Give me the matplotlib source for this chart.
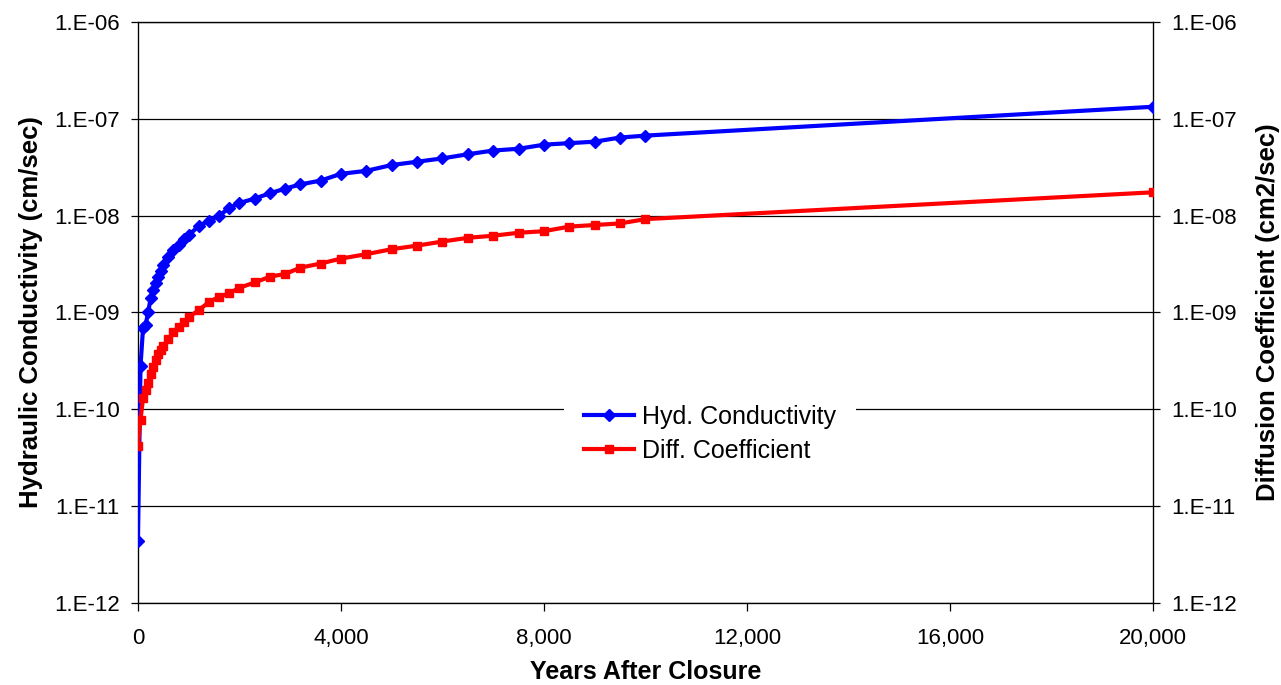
import math
import matplotlib
matplotlib.use("Agg")
import matplotlib.pyplot as plt
from matplotlib.ticker import FixedLocator, FuncFormatter, NullLocator

plt.rcParams['font.family'] = ['Liberation Sans', 'DejaVu Sans']

# years after closure (shared by both series)
years = [0, 50, 100, 150, 200, 250, 300, 350, 400, 450, 500, 600, 700, 800,
         900, 1000, 1200, 1400, 1600, 1800, 2000, 2300, 2600, 2900, 3200,
         3600, 4000, 4500, 5000, 5500, 6000, 6500, 7000, 7500, 8000, 8500,
         9000, 9500, 10000, 20000]

# hydraulic conductivity (cm/sec)
hyd_cond = [4.4e-12, 2.8e-10, 6.9e-10, 7.4e-10, 1.0e-9, 1.4e-9, 1.7e-9,
            2.0e-9, 2.3e-9, 2.7e-9, 3.1e-9, 3.7e-9, 4.4e-9, 5.0e-9, 5.7e-9,
            6.3e-9, 7.8e-9, 8.9e-9, 1.0e-8, 1.2e-8, 1.35e-8, 1.5e-8, 1.7e-8,
            1.9e-8, 2.1e-8, 2.3e-8, 2.7e-8, 2.9e-8, 3.33e-8, 3.6e-8, 3.9e-8,
            4.3e-8, 4.7e-8, 4.9e-8, 5.4e-8, 5.6e-8, 5.8e-8, 6.4e-8, 6.7e-8,
            1.33e-7]

# diffusion coefficient (cm2/sec)
diff_coef = [4.2e-11, 7.8e-11, 1.3e-10, 1.6e-10, 1.85e-10, 2.3e-10, 2.75e-10,
             3.2e-10, 3.7e-10, 4.1e-10, 4.5e-10, 5.3e-10, 6.3e-10, 7.1e-10,
             8.0e-10, 8.9e-10, 1.06e-9, 1.28e-9, 1.45e-9, 1.58e-9, 1.8e-9,
             2.04e-9, 2.34e-9, 2.5e-9, 2.9e-9, 3.2e-9, 3.6e-9, 4.0e-9, 4.5e-9,
             4.9e-9, 5.4e-9, 5.9e-9, 6.2e-9, 6.65e-9, 6.9e-9, 7.7e-9, 8.0e-9,
             8.3e-9, 9.2e-9, 1.74e-8]

x_ticks = [0, 4000, 8000, 12000, 16000, 20000]
y_ticks = [1e-12, 1e-11, 1e-10, 1e-9, 1e-8, 1e-7, 1e-6]


def sci_fmt(v, pos):
    # Excel style "1.E-07"
    exp = int(round(-math.log10(v)))
    return "1.E-%02d" % exp


fig = plt.figure(figsize=(12.81, 6.85), dpi=100)
ax = fig.add_axes([0.1077, 0.1197, 0.7923, 0.8483])

ax.plot(years, hyd_cond, color='#0000FF', lw=3.0, marker='D', ms=6,
        label='Hyd. Conductivity', zorder=3)
ax.plot(years, diff_coef, color='#FF0000', lw=3.0, marker='s', ms=5.5,
        label='Diff. Coefficient', zorder=3)

ax.set_yscale('log')
ax.set_ylim(1e-12, 1e-6)
ax.set_xlim(0, 20000)
ax.yaxis.set_major_locator(FixedLocator(y_ticks))
ax.yaxis.set_minor_locator(NullLocator())
ax.yaxis.set_major_formatter(FuncFormatter(sci_fmt))
ax.set_xticks(x_ticks)
ax.set_xticklabels(["{:,}".format(v) for v in x_ticks])
ax.grid(axis='y', color='black', lw=0.9, zorder=1)
ax.tick_params(axis='y', direction='out', length=5, width=0.9,
               labelsize=16, pad=8)
ax.tick_params(axis='x', direction='out', length=6, width=0.9,
               labelsize=16, pad=12)
for sp in ax.spines.values():
    sp.set_linewidth(0.9)

ax.set_xlabel('Years After Closure', fontsize=18, fontweight='bold', labelpad=8)
ax.set_ylabel('Hydraulic Conductivity (cm/sec)', fontsize=18.5,
              fontweight='bold', labelpad=8)

# right axis carries the same scale
ax2 = ax.twinx()
ax2.set_yscale('log')
ax2.set_ylim(1e-12, 1e-6)
ax2.yaxis.set_major_locator(FixedLocator(y_ticks))
ax2.yaxis.set_minor_locator(NullLocator())
ax2.yaxis.set_major_formatter(FuncFormatter(sci_fmt))
ax2.tick_params(axis='y', direction='out', length=5, width=0.9,
                labelsize=16, pad=8)
ax2.set_ylabel('Diffusion Coefficient (cm2/sec)', fontsize=18.5,
               fontweight='bold', labelpad=14)
ax2.set_zorder(0)
ax.set_zorder(1)
ax.patch.set_visible(False)

leg = ax.legend(loc='center', bbox_to_anchor=(0.5635, 0.291), fontsize=18,
                frameon=True, fancybox=False, borderpad=0.8,
                handlelength=2.0, handletextpad=0.35, labelspacing=0.4)
leg.get_frame().set_facecolor('white')
leg.get_frame().set_edgecolor('none')
leg.get_frame().set_alpha(1.0)

fig.savefig('out.png', dpi=100)
